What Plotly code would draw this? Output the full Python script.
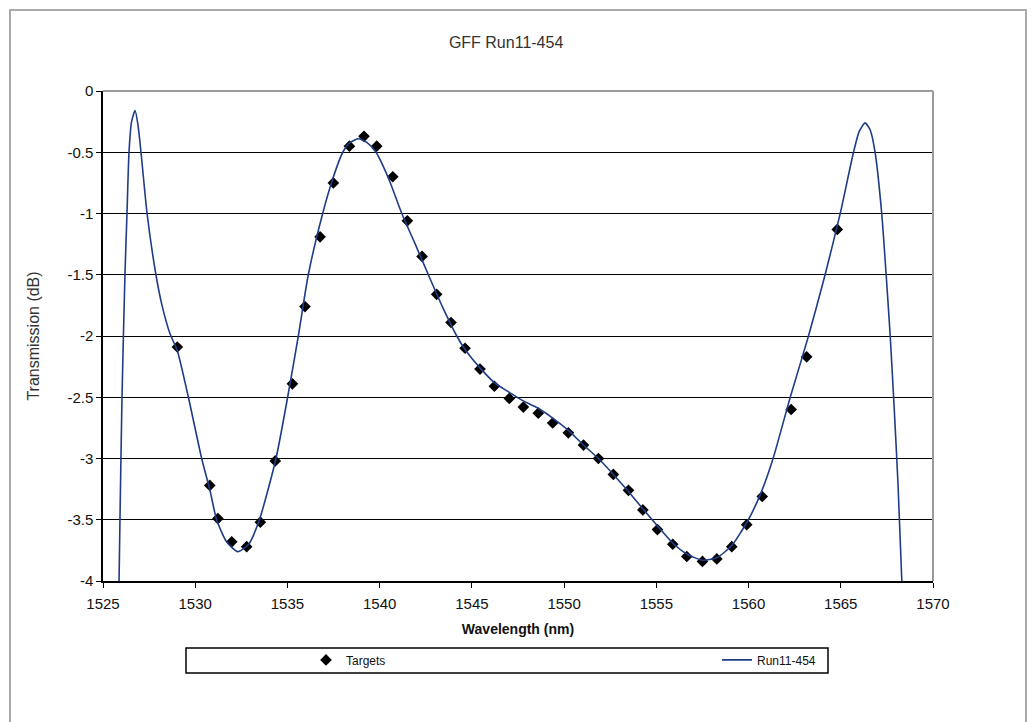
import plotly.graph_objects as go

# Fitted curve (Run11-454)
curve_wl = [1525.87, 1525.92, 1526.03, 1526.19, 1526.30, 1526.41, 1526.55, 1526.74, 1526.90, 1527.06,
            1527.39, 1527.87, 1528.20, 1528.63, 1529.03, 1529.63, 1530.35, 1530.80, 1531.16, 1531.70,
            1532.30, 1532.90, 1533.48, 1534.38, 1535.01, 1535.59, 1536.13, 1536.91, 1537.45, 1538.00,
            1538.40, 1538.85, 1539.30, 1539.80, 1540.50, 1541.20, 1541.90, 1542.64, 1543.40, 1544.18,
            1544.63, 1545.44, 1546.22, 1547.03, 1547.79, 1548.60, 1549.38, 1550.23, 1551.05, 1551.86,
            1552.67, 1553.49, 1554.27, 1555.06, 1555.89, 1556.65, 1557.50, 1558.28, 1559.09, 1559.99,
            1560.70, 1561.33, 1562.26, 1563.25, 1564.15, 1564.97, 1565.69, 1566.00, 1566.32, 1566.60,
            1566.86, 1567.22, 1567.46, 1567.68, 1567.90, 1568.10, 1568.31]
curve_db = [-4.00, -3.50, -2.50, -1.50, -1.00, -0.50, -0.25, -0.16, -0.28, -0.50,
            -1.00, -1.50, -1.75, -1.98, -2.12, -2.50, -3.00, -3.26, -3.50, -3.68,
            -3.76, -3.70, -3.50, -3.00, -2.50, -2.00, -1.50, -1.00, -0.72, -0.50,
            -0.42, -0.39, -0.42, -0.50, -0.72, -1.00, -1.24, -1.50, -1.76, -2.00,
            -2.11, -2.26, -2.38, -2.46, -2.53, -2.59, -2.67, -2.77, -2.89, -3.00,
            -3.13, -3.27, -3.41, -3.55, -3.69, -3.78, -3.83, -3.81, -3.71, -3.50,
            -3.27, -3.00, -2.50, -2.00, -1.50, -1.00, -0.50, -0.33, -0.26, -0.32,
            -0.50, -1.00, -1.50, -2.00, -2.60, -3.20, -4.00]

# Target points
target_wl = [1529.03, 1530.79, 1531.23, 1531.98, 1532.79, 1533.53, 1534.34, 1535.27, 1535.95, 1536.77,
             1537.49, 1538.36, 1539.15, 1539.84, 1540.71, 1541.50, 1542.30, 1543.09, 1543.87, 1544.63,
             1545.44, 1546.22, 1547.03, 1547.79, 1548.60, 1549.38, 1550.23, 1551.05, 1551.86, 1552.67,
             1553.49, 1554.27, 1555.06, 1555.89, 1556.65, 1557.50, 1558.28, 1559.09, 1559.90, 1560.74,
             1562.31, 1563.15, 1564.81]
target_db = [-2.09, -3.22, -3.49, -3.68, -3.72, -3.52, -3.02, -2.39, -1.76, -1.19,
             -0.75, -0.45, -0.37, -0.45, -0.70, -1.06, -1.35, -1.66, -1.89, -2.10,
             -2.27, -2.41, -2.51, -2.58, -2.63, -2.71, -2.79, -2.89, -3.00, -3.13,
             -3.26, -3.42, -3.58, -3.70, -3.80, -3.84, -3.82, -3.72, -3.54, -3.31,
             -2.60, -2.17, -1.13]

x_ticks = [1525, 1530, 1535, 1540, 1545, 1550, 1555, 1560, 1565, 1570]
y_ticks = [0, -0.5, -1, -1.5, -2, -2.5, -3, -3.5, -4]
y_tick_text = ["0", "-0.5", "-1", "-1.5", "-2", "-2.5", "-3", "-3.5", "-4"]

FONT = "Liberation Sans, Arial, sans-serif"

fig = go.Figure()
fig.add_trace(go.Scatter(
    x=target_wl, y=target_db, mode="markers", name="Targets", legend="legend",
    marker=dict(symbol="diamond", size=9, color="black"),
))
fig.add_trace(go.Scatter(
    x=curve_wl, y=curve_db, mode="lines", name="Run11-454", legend="legend2",
    line=dict(color="#1f3d86", width=1.6, shape="spline", smoothing=0.6),
))

leg_font = dict(family=FONT, size=12, color="#111111")
fig.update_layout(
    width=1027, height=714,
    margin=dict(l=95, r=102, t=83, b=141),
    paper_bgcolor="white", plot_bgcolor="white",
    title=dict(text="GFF Run11-454", x=0.485, xanchor="center", y=0.952, yanchor="middle",
               font=dict(family=FONT, size=16, color="#333333")),
    font=dict(family=FONT, color="#111111"),
    showlegend=True,
    legend=dict(x=(306 - 103) / 830, xanchor="left", y=-0.161, yanchor="middle",
                bgcolor="rgba(0,0,0,0)", font=leg_font, itemwidth=30),
    legend2=dict(x=(717 - 103) / 830, xanchor="left", y=-0.161, yanchor="middle",
                 bgcolor="rgba(0,0,0,0)", font=leg_font, itemwidth=30),
)

fig.update_xaxes(
    range=[1525, 1570], tickvals=x_ticks, showgrid=False, zeroline=False,
    showline=True, linecolor="black", linewidth=1.5,
    ticks="outside", ticklen=5, tickcolor="black", tickwidth=1,
    ticklabelstandoff=3,
    tickfont=dict(family=FONT, size=15, color="#111111"),
    title=dict(text="<b>Wavelength (nm)</b>", standoff=13,
               font=dict(family=FONT, size=14, color="#111111")),
)
fig.update_yaxes(
    range=[-4, 0], tickvals=y_ticks, ticktext=y_tick_text,
    showgrid=True, gridcolor="black", gridwidth=1.2, zeroline=False,
    showline=True, linecolor="black", linewidth=1.5,
    ticks="outside", ticklen=5, tickcolor="black", tickwidth=1,
    tickfont=dict(family=FONT, size=15, color="#111111"),
    title=dict(text="Transmission (dB)", standoff=24,
               font=dict(family=FONT, size=16, color="#333333")),
)

# top and right plot border (grey)
fig.add_shape(type="line", xref="paper", yref="paper", x0=0, x1=1, y0=1, y1=1,
              line=dict(color="#9a9a9a", width=2), layer="above")
fig.add_shape(type="line", xref="paper", yref="paper", x0=1, x1=1, y0=0, y1=1,
              line=dict(color="#9a9a9a", width=2), layer="above")
# legend box
fig.add_shape(type="rect", xref="paper", yref="paper", x0=0.1, x1=0.8735, y0=-0.1878, y1=-0.1367,
              line=dict(color="black", width=1.5))
# outer chart border
fig.add_shape(type="rect", xref="paper", yref="paper", x0=(10 - 103) / 830, x1=(1026 - 103) / 830,
              y0=-0.35, y1=(581 - 10) / 490,
              line=dict(color="#aaaaaa", width=2))

fig.write_html("out.html")
